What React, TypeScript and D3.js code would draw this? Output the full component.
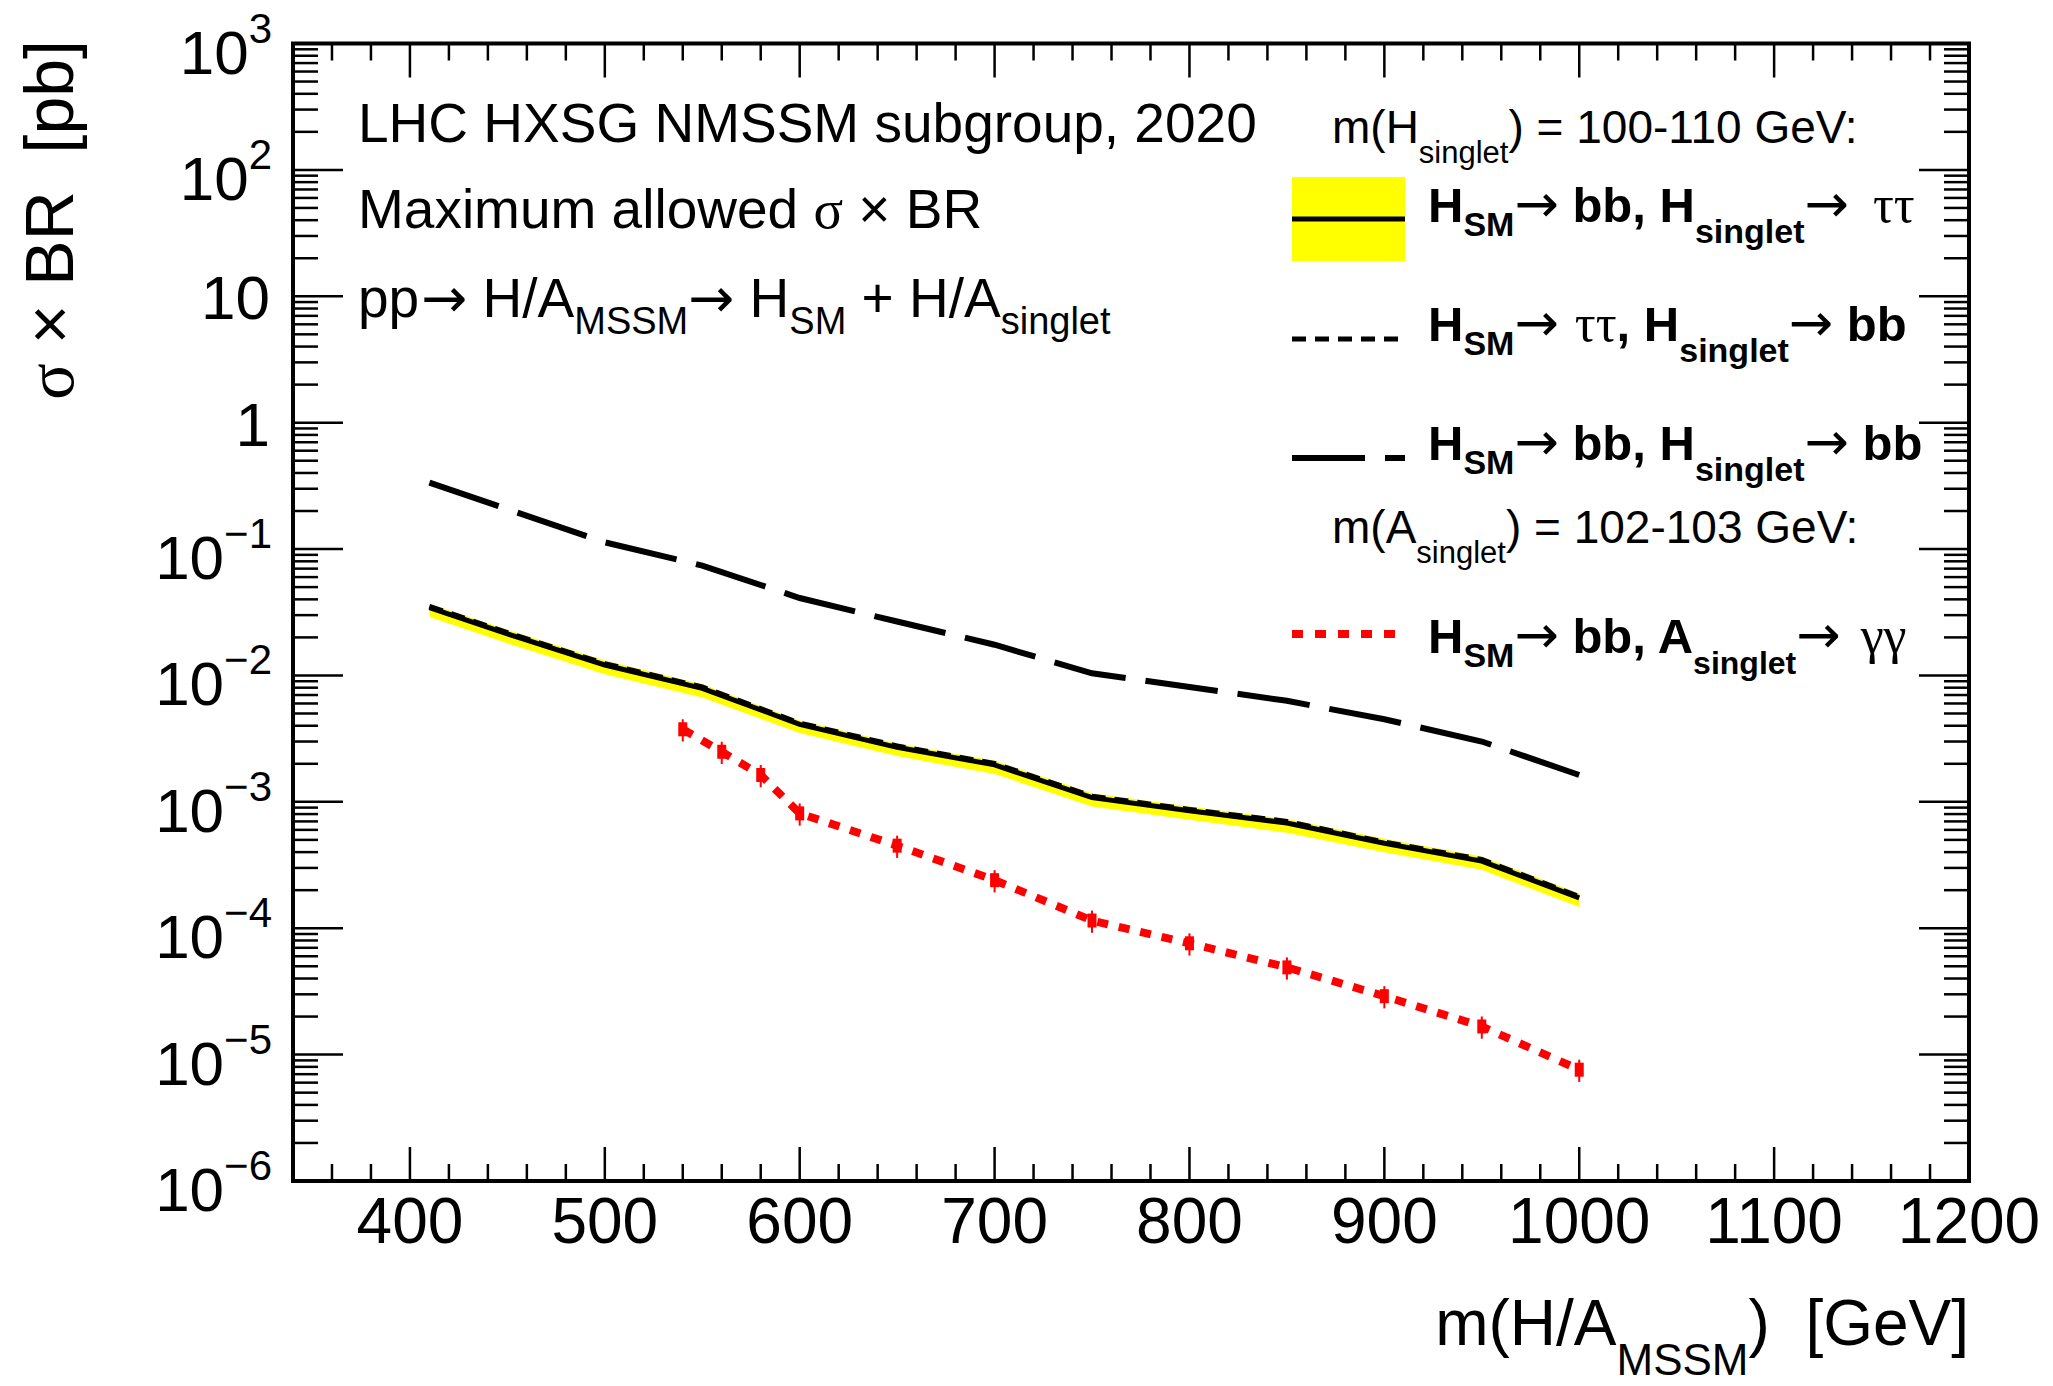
import React from "react";
import * as d3 from "d3";

// masses (GeV) for the H_singlet curves
const massGrid = [410, 450, 500, 550, 600, 650, 700, 750, 800, 850, 900, 950, 1000];
// H_SM -> bb, H_singlet -> tautau (solid) and its yellow band
const bbTauTau = [0.0344, 0.0213, 0.0121, 0.0079, 0.0041, 0.0027, 0.00196, 0.00108, 0.00085, 0.00068, 0.00047, 0.00034, 0.000174];
const bandLow = [0.029, 0.018, 0.0102, 0.0067, 0.0035, 0.0023, 0.00166, 0.00092, 0.00072, 0.00057, 0.0004, 0.00029, 0.000147];
const bandHigh = [0.037, 0.023, 0.0131, 0.0085, 0.0044, 0.0029, 0.00211, 0.00117, 0.00092, 0.00073, 0.00051, 0.00037, 0.000188];
// H_SM -> tautau, H_singlet -> bb (short dashes)
const tauTauBb = [0.0352, 0.0218, 0.0124, 0.0081, 0.0042, 0.00277, 0.00201, 0.00111, 0.00087, 0.0007, 0.00048, 0.00035, 0.000178];
// H_SM -> bb, H_singlet -> bb (long dashes)
const bbBb = [0.335, 0.207, 0.113, 0.074, 0.041, 0.0267, 0.0175, 0.0104, 0.0081, 0.0063, 0.0045, 0.003, 0.00163];
// H_SM -> bb, A_singlet -> gamma gamma (red, with error bars)
const gamMass = [540, 560, 580, 600, 650, 700, 750, 800, 850, 900, 950, 1000];
const bbGamGam = [3.75e-3, 2.49e-3, 1.63e-3, 8.1e-4, 4.5e-4, 2.4e-4, 1.15e-4, 7.6e-5, 4.9e-5, 2.9e-5, 1.67e-5, 7.6e-6];
const gamRelErr = [0.2, 0.2, 0.2, 0.2, 0.2, 0.2, 0.2, 0.2, 0.2, 0.2, 0.2, 0.2];

const xMajor = [400, 500, 600, 700, 800, 900, 1000, 1100, 1200];
const yExponents = [-6, -5, -4, -3, -2, -1, 0, 1, 2, 3];

const W = 2053;
const H = 1386;
const left = 293, right = 1969, top = 43.5, bottom = 1181;

const SANS = "'Liberation Sans', Arial, Helvetica, sans-serif";
const SERIF = "'Liberation Serif', 'DejaVu Serif', serif";
const ARROW = "'DejaVu Sans', sans-serif";

const x = d3.scaleLinear().domain([340, 1200]).range([left, right]);
const y = d3.scaleLog().domain([1e-6, 1e3]).range([bottom, top]);

const Arrow = ({ dy }: { dy: number }) => (
  <tspan fontFamily={ARROW} fontWeight="normal" fontSize={53} dy={dy}>→</tspan>
);

const App = () => {
  const pts = (ms: number[], vs: number[]) => ms.map((m, i) => ({ m, v: vs[i] }));
  const line = d3.line<{ m: number; v: number }>().x(d => x(d.m)).y(d => y(d.v));
  const band = d3
    .area<number>()
    .x((m) => x(m))
    .y0((_, i) => y(bandLow[i]))
    .y1((_, i) => y(bandHigh[i]));

  const xMinor = d3.range(360, 1200, 20).filter(v => v % 100 !== 0);
  const yMinor: number[] = [];
  for (let e = -6; e < 3; e++) for (let k = 2; k <= 9; k++) yMinor.push(k * Math.pow(10, e));

  const tick = { stroke: "#000", strokeWidth: 2.5 };

  return (
    <svg width={W} height={H} style={{ position: "absolute", left: 0, top: 0, background: "#fff" }}
      fontFamily={SANS}>
      <rect x={0} y={0} width={W} height={H} fill="#fff" />

      {/* curves */}
      <path d={band(massGrid) || ""} fill="#ffff00" />
      <path d={line(pts(massGrid, bbBb)) || ""} fill="none" stroke="#000" strokeWidth={6} strokeDasharray="73 20" />
      <path d={line(pts(massGrid, bbTauTau)) || ""} fill="none" stroke="#000" strokeWidth={5} />
      <path d={line(pts(massGrid, tauTauBb)) || ""} fill="none" stroke="#000" strokeWidth={5} strokeDasharray="14 9" />
      <path d={line(pts(gamMass, bbGamGam)) || ""} fill="none" stroke="#ff0000" strokeWidth={8} strokeDasharray="11 11" />
      {gamMass.map((m, i) => {
        const v = bbGamGam[i];
        return (
          <g key={m} fill="#ff0000" stroke="#ff0000">
            <line x1={x(m)} x2={x(m)} y1={y(v * (1 - gamRelErr[i]))} y2={y(v * (1 + gamRelErr[i]))} strokeWidth={2} />
            <rect x={x(m) - 4.5} y={y(v) - 7} width={9} height={14} stroke="none" />
          </g>
        );
      })}

      {/* frame and ticks */}
      <rect x={left} y={top} width={right - left} height={bottom - top} fill="none" stroke="#000" strokeWidth={4} />
      {xMajor.map(v => (
        <g key={"xM" + v}>
          <line x1={x(v)} x2={x(v)} y1={bottom} y2={bottom - 34} {...tick} />
          <line x1={x(v)} x2={x(v)} y1={top} y2={top + 34} {...tick} />
        </g>
      ))}
      {xMinor.map(v => (
        <g key={"xm" + v}>
          <line x1={x(v)} x2={x(v)} y1={bottom} y2={bottom - 17} {...tick} />
          <line x1={x(v)} x2={x(v)} y1={top} y2={top + 17} {...tick} />
        </g>
      ))}
      {yExponents.map(e => (
        <g key={"yM" + e}>
          <line x1={left} x2={left + 50} y1={y(Math.pow(10, e))} y2={y(Math.pow(10, e))} {...tick} />
          <line x1={right} x2={right - 50} y1={y(Math.pow(10, e))} y2={y(Math.pow(10, e))} {...tick} />
        </g>
      ))}
      {yMinor.map((v, i) => (
        <g key={"ym" + i}>
          <line x1={left} x2={left + 25} y1={y(v)} y2={y(v)} {...tick} />
          <line x1={right} x2={right - 25} y1={y(v)} y2={y(v)} {...tick} />
        </g>
      ))}

      {/* tick labels */}
      {xMajor.map(v => (
        <text key={"xl" + v} x={x(v)} y={1243} fontSize={64} textAnchor="middle">{v}</text>
      ))}
      {yExponents.map(e => {
        const yy = y(Math.pow(10, e));
        if (e === 0 || e === 1)
          return <text key={"yl" + e} x={270} y={yy + 23} fontSize={62} textAnchor="end">{e === 0 ? "1" : "10"}</text>;
        return (
          <text key={"yl" + e} x={272} y={yy + 30} fontSize={62} textAnchor="end">
            10<tspan fontSize={42} dy={-31}>{e < 0 ? "\u2212" + -e : e}</tspan>
          </text>
        );
      })}

      {/* axis titles */}
      <text x={1969} y={1345} fontSize={64} textAnchor="end" style={{ whiteSpace: "pre" }}>
        m(H/A<tspan fontSize={44} dy={30}>MSSM</tspan><tspan dy={-30}>)  [GeV]</tspan>
      </text>
      <text transform="translate(73,40) rotate(-90)" fontSize={68} textAnchor="end" style={{ whiteSpace: "pre" }}>
        <tspan fontFamily={SERIF}>σ</tspan> × BR  [pb]
      </text>

      {/* annotations */}
      <g fontSize={55} style={{ whiteSpace: "pre" }}>
        <text x={358} y={142}>LHC HXSG NMSSM subgroup, 2020</text>
        <text x={358} y={228}>Maximum allowed <tspan fontFamily={SERIF}>σ</tspan> × BR</text>
        <text x={358} y={317}>
          pp<tspan fontFamily={ARROW} dx={2}>→</tspan> H/A<tspan fontSize={38} dy={17}>MSSM</tspan>
          <tspan fontFamily={ARROW} dy={-17}>→</tspan> H<tspan fontSize={38} dy={17}>SM</tspan>
          <tspan dy={-17}> + H/A</tspan><tspan fontSize={38} dy={17}>singlet</tspan>
        </text>
      </g>

      {/* legend */}
      <g style={{ whiteSpace: "pre" }}>
        <text x={1332} y={143} fontSize={46}>
          m(H<tspan fontSize={31} dy={20}>singlet</tspan><tspan dy={-20}>) = 100-110 GeV:</tspan>
        </text>
        <rect x={1292} y={177} width={113} height={84} fill="#ffff00" />
        <line x1={1292} x2={1405} y1={219} y2={219} stroke="#000" strokeWidth={5} />
        <text x={1428} y={222} fontSize={49} fontWeight="bold">
          H<tspan fontSize={34} dy={14}>SM</tspan><Arrow dy={-14} /> bb, H<tspan fontSize={34} dy={21}>singlet</tspan><Arrow dy={-21} /><tspan fontFamily={SERIF} fontWeight="normal" fontSize={52} dx={24}>ττ</tspan>
        </text>

        <line x1={1292} x2={1400} y1={339} y2={339} stroke="#000" strokeWidth={5} strokeDasharray="14 9" />
        <text x={1428} y={341} fontSize={49} fontWeight="bold">
          H<tspan fontSize={34} dy={14}>SM</tspan><Arrow dy={-14} /><tspan fontFamily={SERIF} fontWeight="normal" fontSize={52} dx={16}>ττ</tspan>, H<tspan fontSize={34} dy={21}>singlet</tspan><Arrow dy={-21} /> bb
        </text>

        <line x1={1292} x2={1405} y1={458} y2={458} stroke="#000" strokeWidth={6} strokeDasharray="73 20" />
        <text x={1428} y={460} fontSize={49} fontWeight="bold">
          H<tspan fontSize={34} dy={14}>SM</tspan><Arrow dy={-14} /> bb, H<tspan fontSize={34} dy={21}>singlet</tspan><Arrow dy={-21} /> bb
        </text>

        <text x={1332} y={543} fontSize={46}>
          m(A<tspan fontSize={31} dy={20}>singlet</tspan><tspan dy={-20}>) = 102-103 GeV:</tspan>
        </text>
        <line x1={1292} x2={1395} y1={634} y2={634} stroke="#ff0000" strokeWidth={8} strokeDasharray="11 12" />
        <text x={1428} y={653} fontSize={49} fontWeight="bold">
          H<tspan fontSize={34} dy={14}>SM</tspan><Arrow dy={-14} /> bb, A<tspan fontSize={32} dy={21}>singlet</tspan><Arrow dy={-21} /><tspan fontFamily={SERIF} fontWeight="normal" fontSize={52} dx={20}>γγ</tspan>
        </text>
      </g>
    </svg>
  );
};

export default App;
